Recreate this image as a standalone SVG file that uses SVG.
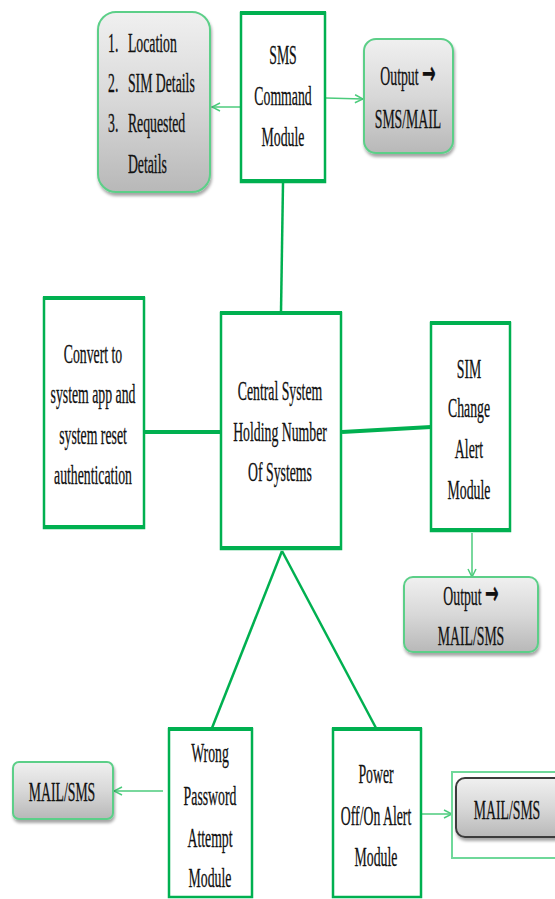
<svg xmlns="http://www.w3.org/2000/svg" width="555" height="899" viewBox="0 0 555 899">
<defs>
<linearGradient id="gray" x1="0" y1="0" x2="0" y2="1">
<stop offset="0" stop-color="#f0f0f0"/>
<stop offset="0.5" stop-color="#d8d8d8"/>
<stop offset="1" stop-color="#b8b8b8"/>
</linearGradient>
<filter id="sh" x="-10%" y="-10%" width="130%" height="130%">
<feDropShadow dx="1" dy="3" stdDeviation="1.5" flood-color="#000" flood-opacity="0.35"/>
</filter>
<marker id="arr" viewBox="0 0 10 10" refX="9" refY="5" markerWidth="10" markerHeight="10" markerUnits="userSpaceOnUse" orient="auto">
<path d="M1,1 L9,5 L1,9" fill="none" stroke="#4ccb7c" stroke-width="1.5"/>
</marker>
</defs>
<style>
.box{fill:#fff;stroke:#00b050;stroke-width:2.5}
.bar{stroke:#00b050;stroke-width:4}
.rbox{fill:url(#gray);stroke:#5ccf88;stroke-width:2;filter:url(#sh)}
.dbox{fill:url(#gray);stroke:#3a3a3a;stroke-width:2;filter:url(#sh)}
.t{font-family:"Liberation Serif","Times New Roman",serif;font-size:27px;fill:#111;text-anchor:middle;stroke:#111;stroke-width:0.3}
.tl{font-family:"Liberation Serif","Times New Roman",serif;font-size:27px;fill:#111;stroke:#111;stroke-width:0.3}
.ar{font-family:"DejaVu Sans",sans-serif;font-weight:bold;font-size:32px}
.thick{stroke:#00b050;stroke-width:4;fill:none}
.med{stroke:#00b050;stroke-width:2.5;fill:none}
.thin{stroke:#4ccb7c;stroke-width:1.5;fill:none;marker-end:url(#arr)}
</style>

<g id="connectors">
<line class="med" x1="283" y1="183" x2="281" y2="312"/>
<line class="thick" x1="143" y1="432" x2="220" y2="432"/>
<line class="thick" x1="342" y1="432" x2="431" y2="427"/>
<line class="med" x1="282" y1="551" x2="212" y2="728"/>
<line class="med" x1="282" y1="551" x2="376" y2="728"/>
<line class="thin" x1="241" y1="107" x2="212" y2="107"/>
<line class="thin" x1="326" y1="98" x2="363" y2="99"/>
<line class="thin" x1="472" y1="533" x2="472" y2="577"/>
<line class="thin" x1="163" y1="791" x2="114" y2="791"/>
<line class="thin" x1="421" y1="814" x2="452" y2="814"/>
</g>

<g id="details-list">
<rect class="rbox" x="98" y="12" width="112" height="180" rx="18"/>
<g transform="translate(108 0) scale(0.51 1)">
<text class="tl" x="0" y="52">1.</text><text class="tl" x="39" y="52">Location</text>
<text class="tl" x="0" y="92">2.</text><text class="tl" x="39" y="92">SIM Details</text>
<text class="tl" x="0" y="132">3.</text><text class="tl" x="39" y="132">Requested</text>
<text class="tl" x="39" y="173">Details</text>
</g>
</g>

<g id="sms-command">
<rect class="box" x="241" y="13" width="84" height="169"/>
<line class="bar" x1="240" y1="13" x2="326" y2="13"/>
<line class="bar" x1="240" y1="181" x2="326" y2="181"/>
<g transform="translate(283 0) scale(0.51 1)">
<text class="t" x="0" y="64">SMS</text>
<text class="t" x="0" y="105">Command</text>
<text class="t" x="0" y="146">Module</text>
</g>
</g>

<g id="output-sms-mail">
<rect class="rbox" x="364" y="39" width="89" height="114" rx="12"/>
<g transform="translate(408 0) scale(0.51 1)">
<text class="t" x="0" y="85">Output <tspan class="ar" dy="-1">→</tspan></text>
<text class="t" x="0" y="128">SMS/MAIL</text>
</g>
</g>

<g id="convert">
<rect class="box" x="44" y="298" width="100" height="230"/>
<line class="bar" x1="43" y1="298" x2="145" y2="298"/>
<line class="bar" x1="43" y1="527" x2="145" y2="527"/>
<g transform="translate(93 0) scale(0.51 1)">
<text class="t" x="0" y="363">Convert to</text>
<text class="t" x="0" y="403">system app and</text>
<text class="t" x="0" y="444">system reset</text>
<text class="t" x="0" y="484">authentication</text>
</g>
</g>

<g id="central">
<rect class="box" x="221" y="313" width="120" height="236"/>
<line class="bar" x1="220" y1="313" x2="342" y2="313"/>
<line class="bar" x1="220" y1="548" x2="342" y2="548"/>
<g transform="translate(280 0) scale(0.51 1)">
<text class="t" x="0" y="400">Central System</text>
<text class="t" x="0" y="441">Holding Number</text>
<text class="t" x="0" y="481">Of Systems</text>
</g>
</g>

<g id="sim-change">
<rect class="box" x="431" y="323" width="79" height="208"/>
<line class="bar" x1="430" y1="323" x2="511" y2="323"/>
<line class="bar" x1="430" y1="530" x2="511" y2="530"/>
<g transform="translate(469 0) scale(0.51 1)">
<text class="t" x="0" y="378">SIM</text>
<text class="t" x="0" y="417">Change</text>
<text class="t" x="0" y="458">Alert</text>
<text class="t" x="0" y="499">Module</text>
</g>
</g>

<g id="output-mail-sms">
<rect class="rbox" x="404" y="577" width="134" height="75" rx="9"/>
<g transform="translate(471 0) scale(0.51 1)">
<text class="t" x="0" y="605">Output <tspan class="ar" dy="-1">→</tspan></text>
<text class="t" x="0" y="645">MAIL/SMS</text>
</g>
</g>

<g id="wrong-password">
<rect class="box" x="169" y="729" width="83" height="168"/>
<line class="bar" x1="168" y1="729" x2="253" y2="729"/>
<g transform="translate(210 0) scale(0.51 1)">
<text class="t" x="0" y="762">Wrong</text>
<text class="t" x="0" y="805">Password</text>
<text class="t" x="0" y="847">Attempt</text>
<text class="t" x="0" y="887">Module</text>
</g>
</g>

<g id="mail-sms-left">
<rect class="rbox" x="13" y="762" width="100" height="57" rx="6"/>
<g transform="translate(62 0) scale(0.51 1)">
<text class="t" x="0" y="801">MAIL/SMS</text>
</g>
</g>

<g id="power-alert">
<rect class="box" x="333" y="729" width="88" height="168"/>
<line class="bar" x1="332" y1="729" x2="422" y2="729"/>
<g transform="translate(376 0) scale(0.51 1)">
<text class="t" x="0" y="783">Power</text>
<text class="t" x="0" y="825">Off/On Alert</text>
<text class="t" x="0" y="866">Module</text>
</g>
</g>

<g id="mail-sms-right">
<rect x="452" y="772" width="110" height="86" fill="none" stroke="#6fd89a" stroke-width="2"/>
<rect class="dbox" x="456" y="778" width="110" height="59" rx="9"/>
<g transform="translate(507 0) scale(0.51 1)">
<text class="t" x="0" y="819">MAIL/SMS</text>
</g>
</g>
</svg>
